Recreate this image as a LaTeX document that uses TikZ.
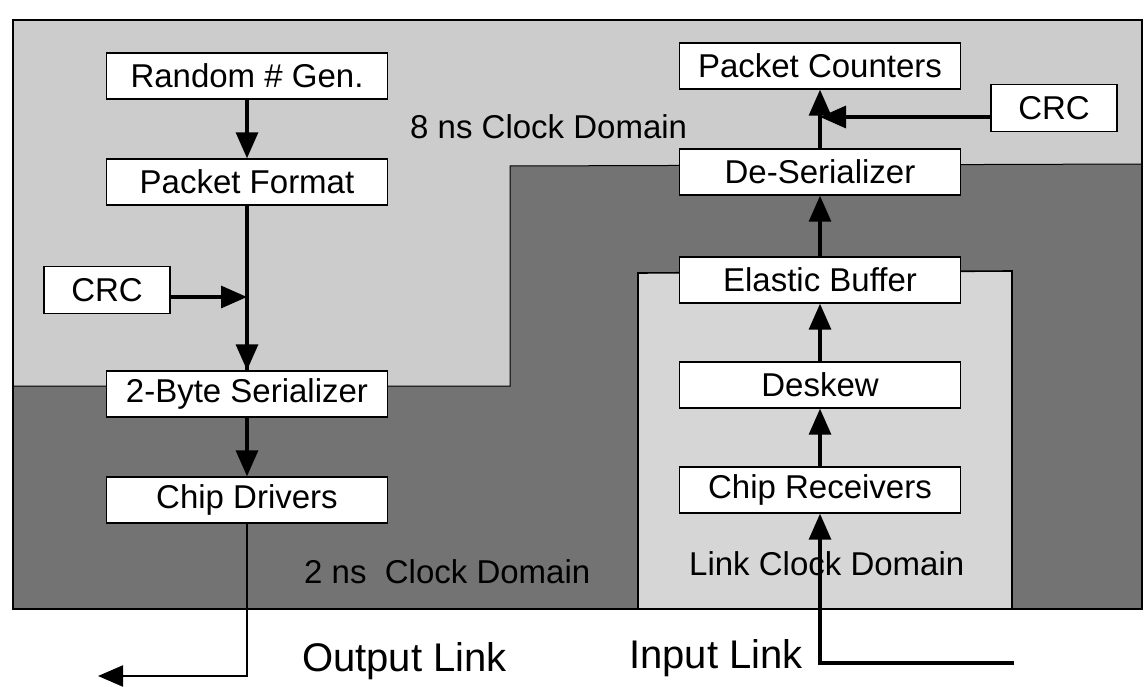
\documentclass[tikz,border=0pt]{standalone}
\usepackage{fontspec}
\setmainfont{Liberation Sans}
\usetikzlibrary{arrows.meta}
\definecolor{lightreg}{gray}{0.80}
\definecolor{darkreg}{gray}{0.45}
\definecolor{linkreg}{gray}{0.84}
\begin{document}
\begin{tikzpicture}[x=1pt,y=-1pt,
  blk/.style={draw=black, line width=1.4pt, fill=white, minimum width=281pt, minimum height=46pt, inner sep=0pt, font=\fontsize{33}{40}\selectfont},
  crcblk/.style={blk, minimum width=126pt, minimum height=47pt},
  lbl/.style={font=\fontsize{33}{40}\selectfont, inner sep=0pt, anchor=base west},
  biglbl/.style={font=\fontsize{40}{48}\selectfont, inner sep=0pt, anchor=base west},
  flow/.style={line width=3.2pt, -{Triangle[length=26pt,width=22pt]}},
  thinflow/.style={line width=2.2pt, -{Triangle[length=25pt,width=21pt]}}]
\useasboundingbox (0,0) rectangle (1147,687);
% regions
\fill[lightreg] (13,20) rectangle (1142,609);
\filldraw[fill=darkreg, draw=black, line width=1pt] (13,386) -- (510,386) -- (510,166) -- (1142,164) -- (1142,609) -- (13,609) -- cycle;
\filldraw[fill=linkreg, draw=black, line width=1.6pt] (638,609) -- (638,273) -- (1012,271) -- (1012,609);
\draw[line width=2pt] (13,20) rectangle (1142,609);
% region labels
\node[lbl] (t8) at (410,139) {8 ns Clock Domain};
\node[lbl] (t2) at (304,583) {2 ns\ \ Clock Domain};
\node[lbl] (tl) at (689,575) {Link Clock Domain};
\node[biglbl] (tout) at (302,671) {Output Link};
\node[biglbl] (tin) at (629,668) {Input Link};
% left column
\node[blk] (rng) at (247,76) {Random \# Gen.};
\node[blk] (pf) at (247,182) {Packet Format};
\node[crcblk] (crcL) at (107,290) {CRC};
\node[blk] (ser) at (247,394) {2-Byte Serializer};
\node[blk] (drv) at (247,500) {Chip Drivers};
% right column
\node[blk] (pc) at (820,66) {Packet Counters};
\node[crcblk] (crcR) at (1054,108) {CRC};
\node[blk] (ds) at (820,172) {De-Serializer};
\node[blk] (eb) at (820,280) {Elastic Buffer};
\node[blk] (dsk) at (820,385) {Deskew};
\node[blk] (crx) at (820,490) {Chip Receivers};
% connectors left
\coordinate (crcjoin) at (247,297);
\coordinate (outend) at (98,676);
\draw[flow] (rng.south) -- (pf.north);
\draw[line width=3.2pt] (pf.south) -- (ser.north);
\draw[flow] (crcjoin) -- (ser.north);
\draw[flow] (crcL.east |- crcjoin) -- (crcjoin);
\draw[flow] (ser.south) -- (drv.north);
\draw[thinflow] (drv.south) |- (outend);
% connectors right
\coordinate (crcRjoin) at (820,117);
\coordinate (instart) at (1014,663);
\draw[flow] (instart) -| (crx.south);
\draw[flow] (crx.north) -- (dsk.south);
\draw[flow] (dsk.north) -- (eb.south);
\draw[flow] (eb.north) -- (ds.south);
\draw[flow] (ds.north) -- (pc.south);
\draw[flow] (crcR.west |- crcRjoin) -- (crcRjoin);
\end{tikzpicture}
\end{document}
